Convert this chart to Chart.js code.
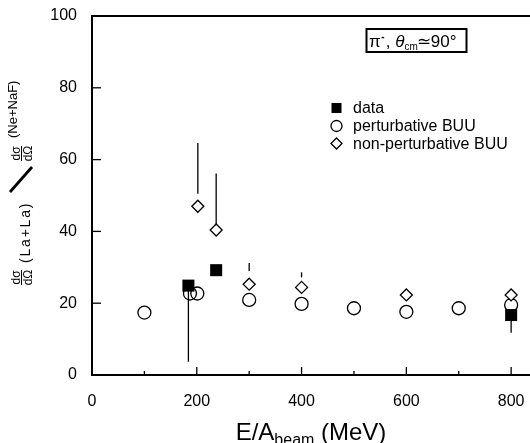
<!DOCTYPE html>
<html>
<head>
<meta charset="utf-8">
<script src="https://cdn.jsdelivr.net/npm/chart.js@4.4.0/dist/chart.umd.min.js"></script>
<style>
  html, body { margin: 0; padding: 0; background: #fff; }
</style>
</head>
<body>
<canvas id="chart" width="530" height="443"></canvas>
<script>
// measured data
const dataE = [184, 237, 800];
const dataRatio = [24.9, 29.2, 16.7];
const dataErrLow = [3.7, null, 11.8];

const pertE = [100, 187, 201, 300, 400, 500, 600, 700, 800];
const pertRatio = [17.4, 22.7, 22.7, 20.9, 19.8, 18.6, 17.6, 18.6, 19.5];

const nonpertE = [202, 237, 300, 400, 600, 800];
const nonpertRatio = [47.0, 40.4, 25.3, 24.4, 22.3, 22.3];
// visible parts of the upper error bars
const nonpertBarLow = [50.5, 41.8, 29.0, 27.2, null, null];
const nonpertBarHigh = [64.6, 56.1, 31.2, 28.6, null, null];

const xTickValues = [0, 200, 400, 600, 800];
const yTickValues = [0, 20, 40, 60, 80, 100];

const FONT = '"Liberation Sans", Arial, Helvetica, sans-serif';

function points(xs, ys) {
  return xs.map((x, i) => ({ x: x, y: ys[i] }));
}

const extras = {
  id: 'extras',
  beforeDatasetsDraw(chart) {
    const ctx = chart.ctx;
    const xs = chart.scales.x, ys = chart.scales.y;
    ctx.save();
    ctx.strokeStyle = '#000';
    ctx.lineWidth = 1.3;
    // error bars
    dataE.forEach((e, i) => {
      if (dataErrLow[i] == null) return;
      const px = xs.getPixelForValue(e);
      ctx.beginPath();
      ctx.moveTo(px, ys.getPixelForValue(dataRatio[i]));
      ctx.lineTo(px, ys.getPixelForValue(dataErrLow[i]));
      ctx.stroke();
    });
    nonpertE.forEach((e, i) => {
      if (nonpertBarHigh[i] == null) return;
      const px = xs.getPixelForValue(e);
      ctx.beginPath();
      ctx.moveTo(px, ys.getPixelForValue(nonpertBarLow[i]));
      ctx.lineTo(px, ys.getPixelForValue(nonpertBarHigh[i]));
      ctx.stroke();
    });
    ctx.restore();
  },
  afterDraw(chart) {
    const ctx = chart.ctx;
    const a = chart.chartArea;
    const xs = chart.scales.x, ys = chart.scales.y;
    ctx.save();
    ctx.strokeStyle = '#000';
    ctx.fillStyle = '#000';

    // top frame line
    ctx.lineWidth = 2;
    ctx.beginPath();
    ctx.moveTo(a.left - 1, a.top);
    ctx.lineTo(a.right, a.top);
    ctx.stroke();

    // inward ticks
    ctx.lineWidth = 1.3;
    xs.ticks.forEach(t => {
      const px = xs.getPixelForValue(t.value);
      const len = t.value % 200 === 0 ? 8 : 4;
      ctx.beginPath();
      ctx.moveTo(px, a.bottom);
      ctx.lineTo(px, a.bottom - len);
      ctx.stroke();
    });
    ys.ticks.forEach(t => {
      const py = ys.getPixelForValue(t.value);
      ctx.beginPath();
      ctx.moveTo(a.left, py);
      ctx.lineTo(a.left + 9, py);
      ctx.stroke();
    });

    // x title with subscript
    const cx = (a.left + a.right) / 2;
    const big = '24px ' + FONT, small = '16px ' + FONT;
    ctx.font = big;
    const w1 = ctx.measureText('E/A').width;
    const w3 = ctx.measureText(' (MeV)').width;
    ctx.font = small;
    const w2 = ctx.measureText('beam').width;
    let x0 = cx - (w1 + w2 + w3) / 2;
    const base = 440;
    ctx.textBaseline = 'alphabetic';
    ctx.textAlign = 'left';
    ctx.font = big;
    ctx.fillText('E/A', x0, base);
    ctx.font = small;
    ctx.fillText('beam', x0 + w1, base + 5);
    ctx.font = big;
    ctx.fillText(' (MeV)', x0 + w1 + w2, base);

    // y title, rotated
    ctx.save();
    ctx.translate(32, 286);
    ctx.rotate(-Math.PI / 2);
    const frac = (u) => {
      ctx.font = '12px ' + FONT;
      ctx.textAlign = 'center';
      ctx.fillText('dσ', u + 8.5, -12);
      ctx.fillText('dΩ', u + 8.5, 0);
      ctx.lineWidth = 1;
      ctx.beginPath();
      ctx.moveTo(u + 1, -10.5);
      ctx.lineTo(u + 16, -10.5);
      ctx.stroke();
    };
    frac(0);
    ctx.textAlign = 'left';
    ctx.font = '14px ' + FONT;
    ctx.letterSpacing = '1.8px';
    ctx.fillText('(La+La)', 23, -2);
    ctx.letterSpacing = '0px';
    ctx.lineWidth = 2.8;
    ctx.beginPath();
    ctx.moveTo(94, -22);
    ctx.lineTo(119, 0);
    ctx.stroke();
    frac(124);
    ctx.textAlign = 'left';
    ctx.font = '13px ' + FONT;
    ctx.fillText('(Ne+NaF)', 148, -15);
    ctx.restore();

    // inset label box
    ctx.lineWidth = 2;
    ctx.strokeRect(366.5, 29, 100, 23);
    ctx.textAlign = 'left';
    let tx = 369;
    const tb = 46.5;
    ctx.font = '17px ' + FONT;
    ctx.fillText('π', tx, tb); tx += ctx.measureText('π').width;
    ctx.font = 'bold 10px ' + FONT;
    ctx.fillText('-', tx + 0.5, tb - 7); tx += 5;
    ctx.font = '17px ' + FONT;
    ctx.fillText(', ', tx, tb); tx += ctx.measureText(', ').width;
    ctx.font = 'italic 17px ' + FONT;
    ctx.fillText('θ', tx, tb); tx += ctx.measureText('θ').width;
    ctx.font = '10px ' + FONT;
    ctx.fillText('cm', tx, tb + 3); tx += ctx.measureText('cm').width - 1;
    ctx.font = '17px ' + FONT;
    ctx.fillText('≃90°', tx, tb);

    // legend
    const lx = 336.5;
    const rows = [108, 126, 143.5];
    const datasets = chart.data.datasets;
    ctx.lineWidth = 1.3;
    ctx.fillRect(lx - 5, rows[0] - 5, 10, 10);
    ctx.beginPath();
    ctx.arc(lx, rows[1], 5.5, 0, Math.PI * 2);
    ctx.stroke();
    ctx.beginPath();
    ctx.moveTo(lx, rows[2] - 5.5);
    ctx.lineTo(lx + 5.5, rows[2]);
    ctx.lineTo(lx, rows[2] + 5.5);
    ctx.lineTo(lx - 5.5, rows[2]);
    ctx.closePath();
    ctx.stroke();
    ctx.font = '16px ' + FONT;
    ctx.textBaseline = 'middle';
    datasets.forEach((d, i) => {
      ctx.fillText(d.label, 353, rows[i] + 1);
    });
    ctx.restore();
  }
};

new Chart(document.getElementById('chart'), {
  type: 'scatter',
  data: {
    datasets: [{
      label: 'data',
      data: points(dataE, dataRatio),
      pointStyle: 'rect',
      pointRadius: 8.5,
      pointHoverRadius: 8.5,
      backgroundColor: '#000',
      borderColor: '#000',
      borderWidth: 0,
      order: 0
    }, {
      label: 'perturbative BUU',
      data: points(pertE, pertRatio),
      pointStyle: 'circle',
      pointRadius: 6.5,
      pointHoverRadius: 6.5,
      backgroundColor: 'rgba(0,0,0,0)',
      borderColor: '#000',
      borderWidth: 1.3,
      order: 2
    }, {
      label: 'non-perturbative BUU',
      data: points(nonpertE, nonpertRatio),
      pointStyle: 'rectRot',
      pointRadius: 6,
      pointHoverRadius: 6,
      backgroundColor: '#fff',
      borderColor: '#000',
      borderWidth: 1.3,
      order: 1
    }]
  },
  options: {
    responsive: false,
    animation: false,
    events: [],
    layout: { autoPadding: false, padding: { top: 16, right: 0, left: 0, bottom: 0 } },
    plugins: {
      legend: { display: false },
      tooltip: { enabled: false }
    },
    scales: {
      x: {
        type: 'linear',
        min: 0,
        max: 836,
        afterFit: s => { s.height = 68; s.paddingLeft = 0; s.paddingRight = 0; },
        grid: { display: false, drawTicks: false },
        border: { display: true, color: '#000', width: 2 },
        ticks: {
          stepSize: 100,
          includeBounds: false,
          autoSkip: false,
          maxRotation: 0,
          padding: 17,
          color: '#000',
          font: { family: FONT, size: 16 },
          callback: v => xTickValues.includes(v) ? String(v) : ''
        }
      },
      y: {
        type: 'linear',
        min: 0,
        max: 100,
        afterFit: s => { s.width = 92; s.paddingTop = 0; s.paddingBottom = 0; },
        grid: { display: false, drawTicks: false },
        border: { display: true, color: '#000', width: 2 },
        ticks: {
          stepSize: 20,
          padding: 15,
          color: '#000',
          font: { family: FONT, size: 16 },
          callback: v => yTickValues.includes(v) ? String(v) : ''
        }
      }
    }
  },
  plugins: [extras]
});
</script>
</body>
</html>
